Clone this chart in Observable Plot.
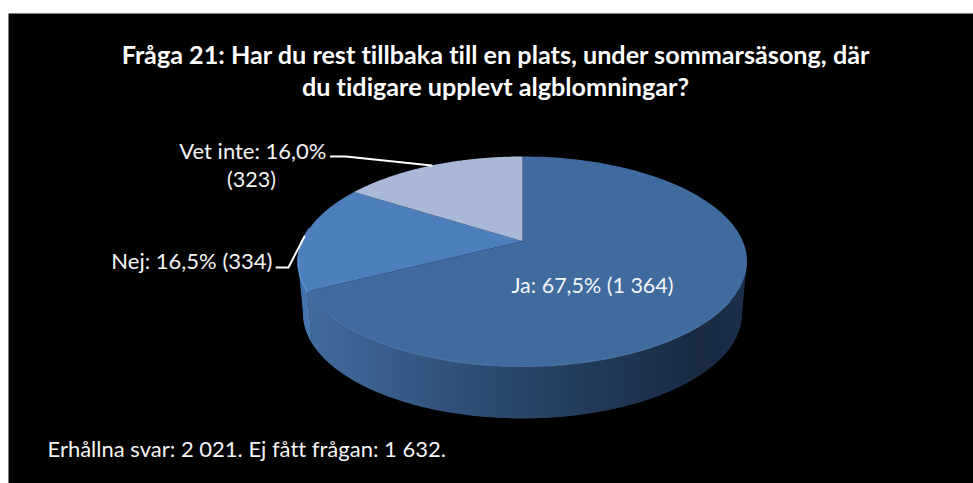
<!DOCTYPE html>
<html><head><meta charset="utf-8">
<script src="https://cdn.jsdelivr.net/npm/d3@7"></script>
<script src="https://cdn.jsdelivr.net/npm/@observablehq/plot@0.6"></script>
<style>html,body{margin:0;padding:0;background:#fff}svg{display:block}svg text{font-variant-ligatures:none}</style>
</head><body><div id="chart"></div>
<script>
const titleLines = ["Fråga 21: Har du rest tillbaka till en plats, under sommarsäsong, där", "du tidigare upplevt algblomningar?"];
const footnote = "Erhållna svar: 2 021. Ej fått frågan: 1 632.";
const categories = ["Ja", "Nej", "Vet inte"];
const shares = [67.5, 16.5, 16.0];
const counts = ["1 364", "334", "323"];
const colors = ["#406B9F", "#4D7FBC", "#A9B8D7"];

// Perspective view of the pie
const view = {cx: 522, cy: 261, c: 220.3, ry: 105, k: 0.193, off: 20.3, depth: 52, shrink: 0.978};
function rim(pct, floor = false) {
  const t = pct / 100 * 2 * Math.PI, x = Math.sin(t), y = -Math.cos(t);
  const d = 1 - view.k * y;
  const X = x * view.c / d, Y = (view.ry * y - view.off) / d;
  const s = floor ? view.shrink : 1;
  return {x: view.cx + X * s, y: view.cy + Y + (floor ? view.depth : 0)};
}
const samples = (a, b) => d3.range(0, 121).map(i => a + (b - a) * i / 120);
let acc = 0;
const slices = categories.map((name, i) => {
  const start = acc; acc += shares[i];
  return {name, start, end: acc, mid: start + shares[i] / 2, color: colors[i], count: counts[i], share: shares[i]};
});
const centre = {x: view.cx, y: view.cy - view.off};
const faces = slices.flatMap(s => [centre, ...samples(s.start, s.end).map(p => rim(p)), centre].map(p => ({...p, name: s.name})));
// visible side wall: from the right extreme round the front to the left extreme
const wallOf = (a, b) => [...samples(a, b).map(p => rim(p)), ...samples(a, b).reverse().map(p => rim(p, true))];
const wallJa = wallOf(28, slices[0].end);
const wallNej = wallOf(slices[1].start, 72);
const frontEdge = samples(34, slices[1].start + 5).map(p => rim(p));
const nejEdge = samples(slices[1].start, 77).map(p => rim(p));

const fmt = v => v.toFixed(1).replace(".", ",") + "%";
const labelOf = s => `${s.name}: ${fmt(s.share)} (${s.count})`;
const P = slices;
const leaders = [
  {s: P[1], dx: [-16, -28], dy: [31, 31]},
  {s: P[2], dx: [-86, -101], dy: [-9, -9]}
].flatMap(l => {
  const r = rim(l.s.mid);
  return [r, {x: r.x + l.dx[0], y: r.y + l.dy[0]}, {x: r.x + l.dx[1], y: r.y + l.dy[1]}].map(p => ({...p, name: l.s.name}));
});
const rimNej = rim(P[1].mid);
const labelsMiddle = [
  {text: labelOf(P[0]), x: 592, y: 286},
  {text: `(${P[2].count})`, x: 251, y: 180}
];
const labelsEnd = [
  {text: labelOf(P[1]), x: rimNej.x - 32, y: rimNej.y + 25},
  {text: `${P[2].name}: ${fmt(P[2].share)}`, x: 326, y: 151}
];
const titles = titleLines.map((text, i) => ({text, x: 495, y: 55 + i * 32}));

const defs = () => {
  const ns = "http://www.w3.org/2000/svg";
  const d = document.createElementNS(ns, "defs");
  d.innerHTML = `<linearGradient id="wallJa" gradientUnits="userSpaceOnUse" x1="308" x2="745" y1="0" y2="0">
    <stop offset="0" stop-color="#426C9E"/><stop offset="0.35" stop-color="#2F4F78"/>
    <stop offset="0.62" stop-color="#233C5C"/><stop offset="0.9" stop-color="#192A42"/><stop offset="1" stop-color="#1C2F4A"/></linearGradient>
    <linearGradient id="wallNej" gradientUnits="userSpaceOnUse" x1="297" x2="309" y1="0" y2="0">
    <stop offset="0" stop-color="#3C6CA6"/><stop offset="1" stop-color="#4A78B0"/></linearGradient>`;
  return d;
};

const chart = Plot.plot({
  width: 973, height: 483,
  marginTop: 13, marginLeft: 8, marginRight: 0, marginBottom: 0,
  style: {background: "#fff", fontFamily: "Lato"},
  x: {domain: [0, 973], range: [0, 973], axis: null},
  y: {domain: [0, 483], range: [0, 483], axis: null},
  color: {type: "ordinal", domain: categories, range: colors},
  marks: [
    defs,
    Plot.frame({fill: "#000", stroke: "none"}),
    Plot.line(wallJa, {x: "x", y: "y", fill: "url(#wallJa)", stroke: "none"}),
    Plot.line(wallNej, {x: "x", y: "y", fill: "url(#wallNej)", stroke: "none"}),
    Plot.line(faces, {x: "x", y: "y", z: "name", fill: "name", stroke: "none"}),
    Plot.line(frontEdge, {x: "x", y: "y", stroke: "#6A98CE", strokeWidth: 1, strokeOpacity: 0.6}),
    Plot.line(nejEdge, {x: "x", y: "y", stroke: "#5E94D6", strokeWidth: 1.5, strokeOpacity: 0.8}),
    Plot.line(leaders, {x: "x", y: "y", z: "name", stroke: "#fff", strokeWidth: 2}),
    Plot.text(labelsMiddle, {x: "x", y: "y", text: "text", textAnchor: "middle", fill: "#f4f4f4", fontSize: 21.5, fontFamily: "Lato"}),
    Plot.text(labelsEnd, {x: "x", y: "y", text: "text", textAnchor: "end", fill: "#f4f4f4", fontSize: 22, fontFamily: "Lato"}),
    Plot.text(titles, {x: "x", y: "y", text: "text", fill: "#fff", fontSize: 25.2, fontWeight: "bold", fontFamily: "Lato"}),
    Plot.text([footnote], {x: () => 47, y: () => 449, text: d => d, textAnchor: "start", fill: "#f4f4f4", fontSize: 22, fontFamily: "Lato"})
  ]
});
document.getElementById("chart").append(chart);
</script></body></html>
